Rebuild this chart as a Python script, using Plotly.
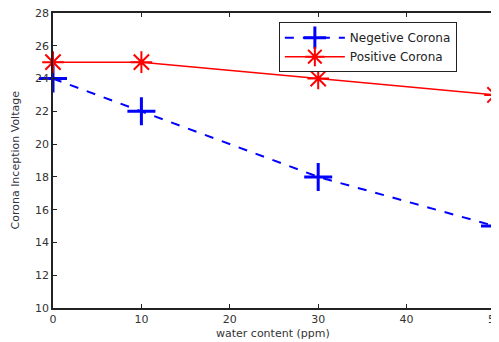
import plotly.graph_objects as go

water_content = [0, 10, 30, 50]
negative_corona = [24, 22, 18, 15]
positive_corona = [25, 25, 24, 23]
x_ticks = [0, 10, 20, 30, 40, 50]
y_ticks = [10, 12, 14, 16, 18, 20, 22, 24, 26, 28]

FONT = "DejaVu Sans, Liberation Sans, Arial"

fig = go.Figure()
fig.add_trace(go.Scatter(
    x=water_content, y=negative_corona, name="Negetive Corona",
    mode="lines+markers", cliponaxis=False,
    line=dict(color="#0000ff", width=2, dash="dash"),
    marker=dict(symbol="cross-thin-open", size=20, line=dict(color="#0000ff", width=3)),
))
fig.add_trace(go.Scatter(
    x=water_content, y=positive_corona, name="Positive Corona",
    mode="lines+markers", cliponaxis=False,
    line=dict(color="#ff0000", width=1.5),
    marker=dict(symbol="asterisk-open", size=18, line=dict(color="#ff0000", width=2)),
))

axis_common = dict(
    showline=True, linecolor="#222", linewidth=1.5, mirror="ticks",
    ticks="inside", ticklen=4, tickcolor="#222", showgrid=False, zeroline=False,
    automargin=False, ticklabeloverflow="allow",
    tickfont=dict(family=FONT, size=11, color="#333"),
)
# page body has an 8px margin, so the figure is sized to fit the 499x342 window
fig.update_layout(
    width=491, height=334,
    margin=dict(l=45, r=4, t=5, b=34),
    paper_bgcolor="white", plot_bgcolor="white",
    xaxis=dict(range=[0, 50], tickvals=x_ticks, **axis_common),
    yaxis=dict(range=[10, 28], tickvals=y_ticks, **axis_common),
    legend=dict(x=0.511, y=0.969, xanchor="left", yanchor="top",
                bordercolor="#222", borderwidth=1, bgcolor="white",
                font=dict(family=FONT, size=12, color="#222"),
                tracegroupgap=0, itemwidth=60),
    showlegend=True,
    annotations=[
        dict(text="water content (ppm)", xref="paper", yref="paper",
             x=0.498, y=0, yshift=-25, xanchor="center", yanchor="middle",
             showarrow=False, font=dict(family=FONT, size=11, color="#333")),
        dict(text="Corona Inception Voltage", xref="paper", yref="paper",
             x=0, y=0.5, xshift=-38, xanchor="center", yanchor="middle", textangle=-90,
             showarrow=False, font=dict(family=FONT, size=11, color="#334")),
    ],
)
fig.write_html("out.html")
